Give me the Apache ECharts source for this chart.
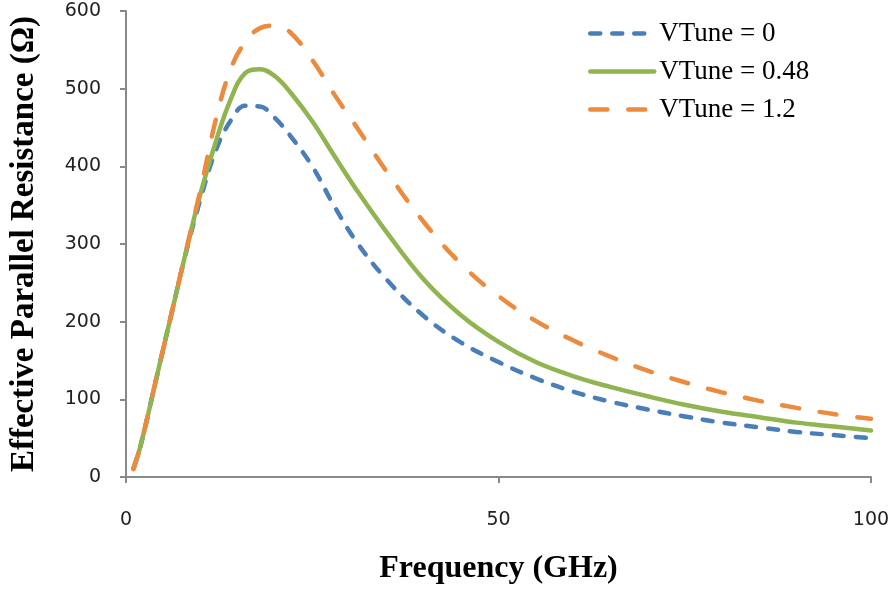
<!DOCTYPE html>
<html lang="en">
<head>
    <meta charset="UTF-8">
    <title>Effective Parallel Resistance</title>
    <script src="https://cdn.jsdelivr.net/npm/echarts@6/dist/echarts.min.js"></script>
    <style>
        body { margin: 0; background: #fff; }
    </style>
</head>
<body>
    <div id="box" style="width: 894px; height: 590px;"></div>
    <script>
        // frequency points (GHz)
        var freq = [1, 2, 4, 6, 8, 10, 12, 14, 16, 18, 20, 22, 25, 28, 31, 35, 40, 45, 50, 55, 60, 65, 70, 75, 80, 85, 90, 95, 100];
        // effective parallel resistance (ohm)
        var vtune0   = [11, 42, 124, 206, 287, 358, 419, 458, 478, 477, 462, 440, 400, 348, 302, 254, 207, 173, 148, 127, 110, 97, 87, 78, 70, 64, 58, 54, 50];
        var vtune048 = [11, 42, 124, 206, 288, 365, 430, 485, 520, 525, 516, 496, 458, 413, 369, 315, 254, 208, 174, 148, 130, 116, 104, 93, 84, 77, 70, 65, 60];
        var vtune12  = [10, 42, 124, 206, 289, 370, 458, 524, 560, 578, 581, 573, 537, 492, 450, 393, 328, 274, 233, 201, 176, 155, 137, 122, 109, 98, 89, 81, 75];
        var names = ['VTune = 0', 'VTune = 0.48', 'VTune = 1.2'];

        function pairs(vals) {
            return freq.map(function (f, i) { return [f, vals[i]]; });
        }

        var chart = echarts.init(document.getElementById('box'));
        var axisGray = '#898989';
        var serif = '"Liberation Serif", "Times New Roman", serif';

        chart.setOption({
            animation: false,
            grid: { left: 123, right: 23, top: 11, bottom: 111, containLabel: false },
            legend: {
                orient: 'vertical',
                left: 583,
                top: 15,
                itemWidth: 64,
                itemHeight: 14,
                itemGap: 11,
                data: names,
                itemStyle: { opacity: 0 },  // no marker dot, only the line
                lineStyle: { width: 4.5, cap: 'round' },
                textStyle: { fontFamily: serif, fontSize: 27, color: '#000' }
            },
            xAxis: {
                type: 'value',
                min: 0,
                max: 100,
                interval: 50,
                name: 'Frequency (GHz)',
                nameLocation: 'middle',
                nameGap: 76,
                nameTextStyle: { fontFamily: serif, fontWeight: 'bold', fontSize: 32, color: '#000' },
                axisLine: { lineStyle: { color: axisGray, width: 2 } },
                axisTick: { show: true, length: 6, lineStyle: { color: axisGray, width: 2 } },
                axisLabel: { margin: 34, fontFamily: 'DejaVu Sans', fontSize: 19, color: '#222' },
                splitLine: { show: false }
            },
            yAxis: {
                type: 'value',
                min: 0,
                max: 600,
                interval: 100,
                name: 'Effective Parallel Resistance (Ω)',
                nameLocation: 'middle',
                nameGap: 85,
                nameTextStyle: { fontFamily: serif, fontWeight: 'bold', fontSize: 33, color: '#000' },
                axisLine: { show: true, lineStyle: { color: axisGray, width: 2 } },
                axisTick: { show: true, length: 6, lineStyle: { color: axisGray, width: 2 } },
                axisLabel: { margin: 25, fontFamily: 'DejaVu Sans', fontSize: 19, color: '#222' },
                splitLine: { show: false }
            },
            series: [
                {
                    name: names[0],
                    type: 'line',
                    smooth: 0.4,
                    symbol: 'none',
                    data: pairs(vtune0),
                    lineStyle: { color: '#4A7EBB', width: 4.5, type: [10, 12], cap: 'round' },
                    itemStyle: { color: '#4A7EBB' }
                },
                {
                    name: names[1],
                    type: 'line',
                    smooth: 0.4,
                    symbol: 'none',
                    data: pairs(vtune048),
                    lineStyle: { color: '#8FB450', width: 4.5, type: 'solid', cap: 'round' },
                    itemStyle: { color: '#8FB450' }
                },
                {
                    name: names[2],
                    type: 'line',
                    smooth: 0.4,
                    symbol: 'none',
                    data: pairs(vtune12),
                    lineStyle: { color: '#EC8A3E', width: 4.5, type: [17, 21], cap: 'round' },
                    itemStyle: { color: '#EC8A3E' }
                }
            ]
        });
    </script>
</body>
</html>
